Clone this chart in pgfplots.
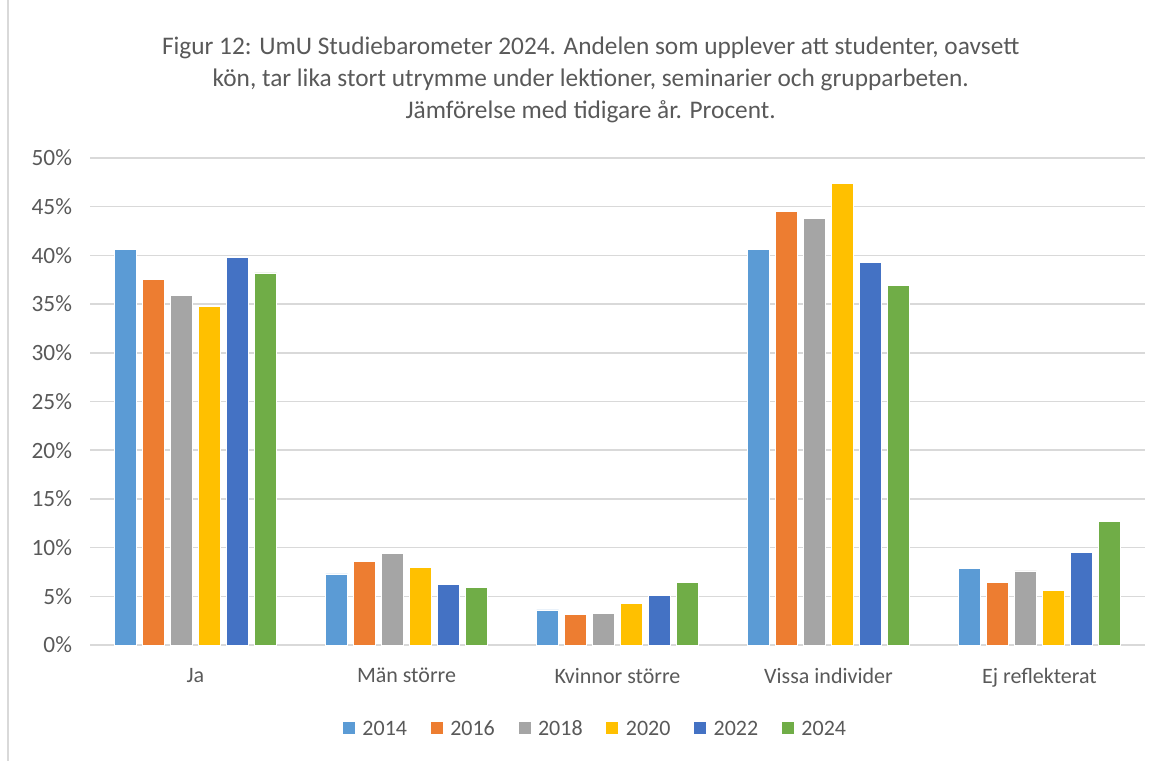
\documentclass[border=0pt]{standalone}
\usepackage{pgfplots}
\pgfplotsset{compat=1.18}
\usepackage{fontspec}
\setmainfont{Carlito}
\definecolor{c14}{HTML}{5B9BD5}
\definecolor{c16}{HTML}{ED7D31}
\definecolor{c18}{HTML}{A5A5A5}
\definecolor{c20}{HTML}{FFC000}
\definecolor{c22}{HTML}{4472C4}
\definecolor{c24}{HTML}{70AD47}
\definecolor{txt}{HTML}{595959}
\definecolor{grd}{HTML}{D9D9D9}
\begin{document}
\begin{tikzpicture}
\useasboundingbox (0pt,0pt) rectangle (874.5pt,-570.75pt);
\draw[grd, line width=1pt] (6pt,0pt) -- (6pt,-570.75pt);
\node[txt, align=center, font=\fontsize{19pt}{23.8pt}\selectfont] at (443pt,-60pt)
 {Figur 12: UmU Studiebarometer 2024. Andelen som upplever att studenter, oavsett\\
 kön, tar lika stort utrymme under lektioner, seminarier och grupparbeten.\\
 Jämförelse med tidigare år. Procent.};
\begin{axis}[
  at={(67.5pt,-483.75pt)}, anchor=south west,
  scale only axis, width=791.25pt, height=365.25pt,
  ymin=0, ymax=50, ytick={0,5,...,50},
  xmin=-0.5, xmax=4.5, xtick=data,
  xticklabels={Ja, Män större, Kvinnor större, Vissa individer, Ej reflekterat},
  yticklabel={\pgfmathprintnumber{\tick}\%},
  /pgf/number format/assume math mode=true,
  ymajorgrids, grid style={grd, line width=1.1pt},
  axis line style={draw=none},
  major tick length=0pt,
  tick label style={txt, font=\fontsize{16.5pt}{18pt}\selectfont},
  yticklabel style={font=\fontsize{17.5pt}{18pt}\selectfont, xshift=-10pt},
  xticklabel style={yshift=-14pt},
  ybar=4.5pt, bar width=16.5pt,
  legend style={at={(0.479,-0.17)}, anchor=center, draw=none, legend columns=-1,
    font=\fontsize{16.5pt}{18pt}\selectfont, text=txt,
    nodes={text height=11.5pt, text depth=0pt},
    /tikz/every odd column/.append style={column sep=3pt},
    /tikz/every even column/.append style={column sep=15pt}},
  legend image code/.code={\fill[#1] (0pt,-4.9pt) rectangle (9.8pt,4.9pt);},
  every axis plot/.append style={draw=white, line width=0.6pt},
]
\addplot[fill=c14] coordinates {(0,40.6) (1,7.3) (2,3.6) (3,40.6) (4,7.9)};
\addplot[fill=c16] coordinates {(0,37.5) (1,8.6) (2,3.1) (3,44.5) (4,6.4)};
\addplot[fill=c18] coordinates {(0,35.9) (1,9.4) (2,3.2) (3,43.8) (4,7.6)};
\addplot[fill=c20] coordinates {(0,34.8) (1,8.0) (2,4.3) (3,47.4) (4,5.6)};
\addplot[fill=c22] coordinates {(0,39.8) (1,6.2) (2,5.1) (3,39.3) (4,9.5)};
\addplot[fill=c24] coordinates {(0,38.2) (1,5.9) (2,6.4) (3,36.9) (4,12.7)};
\legend{2014,2016,2018,2020,2022,2024}
\end{axis}
\end{tikzpicture}
\end{document}
